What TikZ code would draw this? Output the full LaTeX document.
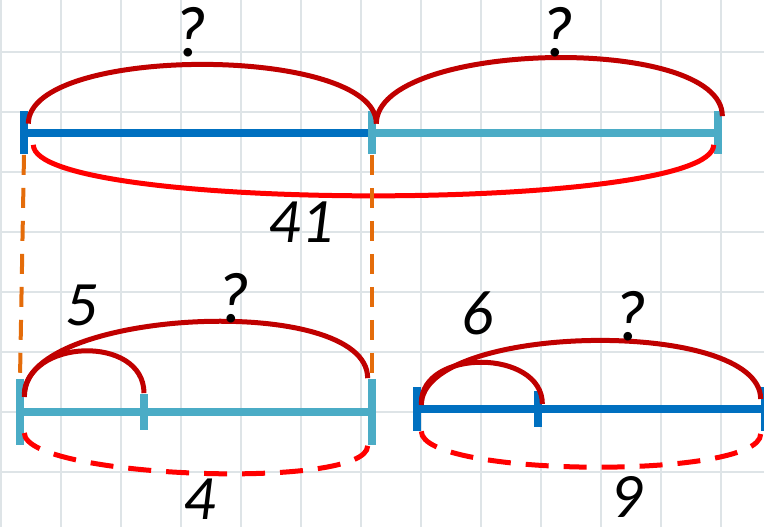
\documentclass[tikz,border=0pt]{standalone}
\usepackage{fontspec}
\setmainfont{Carlito}
\usepackage{xcolor}
\usepackage{tikz}
\usetikzlibrary{positioning}
\definecolor{barblue}{RGB}{0,112,192}
\definecolor{barcyan}{RGB}{75,172,198}
\definecolor{arcred}{RGB}{192,0,0}
\definecolor{sumred}{RGB}{255,0,0}
\definecolor{guide}{RGB}{228,108,10}
\definecolor{gridgray}{RGB}{222,228,231}
\newcommand{\nm}[1]{{\fontsize{36pt}{40pt}\selectfont\itshape #1}}
\newcommand{\qm}{{\fontsize{41pt}{44pt}\selectfont\itshape ?}}

\begin{document}
\begin{tikzpicture}[x=0.02cm, y=0.02cm,
    notch/.style={inner sep=0pt, minimum width=0.16cm, minimum height=0.86cm},
    segbar/.style={line width=0.16cm},
    partarc/.style={arcred, line width=0.1cm},
    wholearc/.style={sumred, line width=0.1cm},
    wholedash/.style={sumred, line width=0.1cm, dash pattern=on 0.46cm off 0.3cm},
    dropline/.style={guide, line width=0.08cm, dash pattern=on 0.4cm off 0.26cm}]
    \useasboundingbox (0,0) rectangle (764,527);
    \clip (0,0) rectangle (764,527);
    \foreach \x in {0,...,12} { \draw[gridgray, line width=0.05cm] (60*\x+1,0) -- (60*\x+1,527); }
    \foreach \y in {0,...,7} { \draw[gridgray, line width=0.05cm] (0,475-60*\y) -- (764,475-60*\y); }

    \node[notch, fill=barblue] (a0) at (24,394) {};
    \node[notch, fill=barcyan] (a1) at (372,394) {};
    \node[notch, fill=barcyan] (a2) at (718,394) {};
    \draw[segbar, barblue] (a0.east) -- (a1.west);
    \draw[segbar, barcyan] (a1.east) -- (a2.west);
    \draw[partarc] ([yshift=-0.25cm]a0.north east) .. controls +(0,79) and +(0,79) .. ([yshift=-0.25cm]a1.north east);
    \draw[partarc] ([yshift=-0.25cm]a1.north east) .. controls +(0,83) and +(0,83) .. ([yshift=-0.1cm]a2.north east);
    \draw[wholearc] ([shift={(0.1cm,0.2cm)}]a0.south east) .. controls +(0,-68) and +(0,-68) .. ([yshift=0.2cm]a2.south west);
    \node (qa) at (190,495) {\qm};
    \node (qb) at (557,495) {\qm};
    \node (sa) at (301,305) {\nm{41}};

    \node[notch, minimum height=1.34cm, fill=barcyan] (b0) at (20,115) {};
    \node[notch, minimum height=0.74cm, fill=barcyan] (b1) at (144,115) {};
    \node[notch, minimum height=1.34cm, fill=barcyan] (b2) at (372,115) {};
    \draw[segbar, barcyan] (b0.east) -- (b1.west) (b1.east) -- (b2.west);
    \draw[partarc] ([yshift=0.3cm]b0.east) .. controls +(0,59) and +(0,59) .. (b1.north);
    \draw[partarc] ([yshift=0.35cm]b0.east) .. controls +(0,86) and +(0,86) .. (b2.north west);
    \draw[wholedash] ([yshift=-0.42cm]b0.east) .. controls +(0,-45) and +(0,-45) .. (b2.south west);
    \node (pb) at (82,222) {\nm{5}};
    \node (qc) at (233,229) {\qm};
    \node (sb) at (200,28) {\nm{4}};

    \draw[dropline] (a0.south) -- (b0.north);
    \draw[dropline] (a1.south) -- (b2.north);

    \node[notch, minimum height=0.88cm, fill=barblue] (c0) at (417,118) {};
    \node[notch, minimum height=0.72cm, fill=barblue] (c1) at (538,118) {};
    \node[notch, minimum height=0.88cm, fill=barblue] (c2) at (765,118) {};
    \draw[segbar, barblue] (c0.east) -- (c1.west) (c1.east) -- (c2.west);
    \draw[partarc] ([yshift=0.12cm]c0.east) .. controls +(0,55) and +(0,55) .. ([yshift=0.1cm]c1.east);
    \draw[partarc] ([yshift=0.08cm]c0.east) .. controls +(0,82) and +(0,82) .. ([yshift=0.2cm]c2.west);
    \draw[wholedash] (c0.south east) .. controls +(0,-46) and +(0,-46) .. ([yshift=-0.5cm]c2.west);
    \node (pc) at (478,214) {\nm{6}};
    \node (qd) at (630,211) {\qm};
    \node (sc) at (627,30) {\nm{9}};
\end{tikzpicture}
\end{document}
